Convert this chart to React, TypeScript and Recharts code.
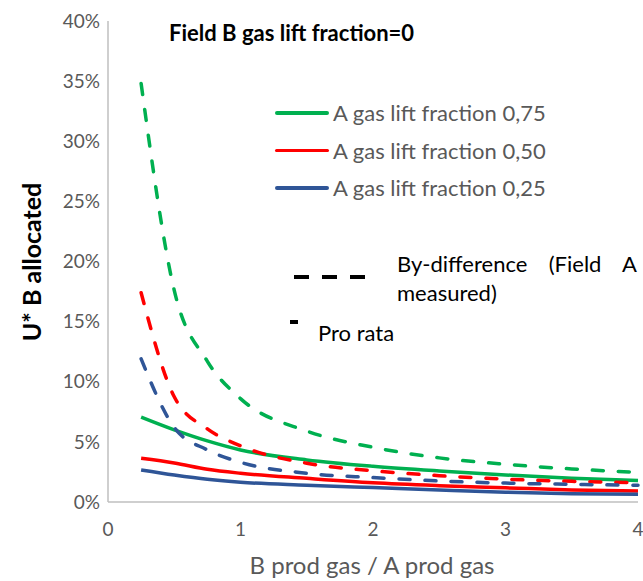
import React from "react";
import { LineChart, Line, XAxis, YAxis, Label } from "recharts";

// B prod gas / A prod gas
const ratio = [0.25, 0.5, 0.75, 1, 1.5, 2, 2.5, 3, 3.5, 4];

// pro rata (solid), U* B allocated in %
const proRata75 = [7.06, 6.0, 5.08, 4.33, 3.5, 2.97, 2.58, 2.25, 1.97, 1.78];
const proRata50 = [3.64, 3.25, 2.72, 2.39, 1.97, 1.6, 1.36, 1.18, 1.0, 0.92];
const proRata25 = [2.67, 2.25, 1.89, 1.64, 1.4, 1.2, 1.0, 0.82, 0.69, 0.64];

// by-difference (dashed), U* B allocated in %
const byDiff75 = [34.8, 17.6, 11.7, 8.6, 5.9, 4.55, 3.67, 3.14, 2.75, 2.47];
const byDiff50 = [17.4, 8.75, 6.08, 4.67, 3.22, 2.6, 2.19, 1.9, 1.72, 1.61];
const byDiff25 = [11.9, 6.2, 4.33, 3.3, 2.39, 2.03, 1.75, 1.57, 1.47, 1.39];

const seriesNames = [
  "A gas lift fraction 0,75",
  "A gas lift fraction 0,50",
  "A gas lift fraction 0,25",
];

const xTicks = [0, 1, 2, 3, 4];
const yTicks = [0, 5, 10, 15, 20, 25, 30, 35, 40];

const GREEN = "#00B050";
const RED = "#FF0000";
const BLUE = "#2F5597";
const COLORS = [GREEN, RED, BLUE];
const AXIS = "#BFBFBF";
const GREY_TEXT = "#595959";
const FONT = "Lato, 'Open Sans', sans-serif";

const data = ratio.map((x, i) => ({
  x,
  p75: proRata75[i],
  p50: proRata50[i],
  p25: proRata25[i],
  d75: byDiff75[i],
  d50: byDiff50[i],
  d25: byDiff25[i],
}));

const App: React.FC = () => {
  return (
    <div style={{ position: "absolute", left: 0, top: 0, width: 643, height: 581 }}>
      <LineChart
        width={643}
        height={581}
        data={data}
        margin={{ top: 21, right: 5, bottom: 0, left: 0 }}
      >
        <XAxis
          dataKey="x"
          type="number"
          domain={[0, 4]}
          ticks={xTicks}
          axisLine={{ stroke: AXIS, strokeWidth: 1.5 }}
          tickLine={false}
          tickSize={0}
          tickMargin={21}
          height={79}
          tick={{ fill: GREY_TEXT, fontSize: 19, fontFamily: FONT }}
        >
          <Label
            content={() => (
              <text
                x={372}
                y={564}
                textAnchor="middle"
                dominantBaseline="central"
                fill={GREY_TEXT}
                fontSize={24}
                fontFamily={FONT}
              >
                B prod gas / A prod gas
              </text>
            )}
          />
        </XAxis>
        <YAxis
          type="number"
          domain={[0, 40]}
          ticks={yTicks}
          width={108}
          axisLine={{ stroke: AXIS, strokeWidth: 1.5 }}
          tickLine={false}
          tickSize={0}
          tickMargin={8}
          tickFormatter={(v: number) => `${v}%`}
          tick={{ fill: GREY_TEXT, fontSize: 19, fontFamily: FONT }}
        >
          <Label
            content={() => (
              <text
                x={31}
                y={262}
                transform="rotate(-90 31 262)"
                textAnchor="middle"
                dominantBaseline="central"
                fill="#000"
                fontSize={25}
                fontWeight="bold"
                fontFamily={FONT}
              >
                U* B allocated
              </text>
            )}
          />
        </YAxis>
        <Line
          dataKey="p75"
          name={seriesNames[0]}
          type="monotone"
          stroke={GREEN}
          strokeWidth={3.5}
          dot={false}
          isAnimationActive={false}
        />
        <Line
          dataKey="p50"
          name={seriesNames[1]}
          type="monotone"
          stroke={RED}
          strokeWidth={3.5}
          dot={false}
          isAnimationActive={false}
        />
        <Line
          dataKey="p25"
          name={seriesNames[2]}
          type="monotone"
          stroke={BLUE}
          strokeWidth={3.5}
          dot={false}
          isAnimationActive={false}
        />
        <Line
          dataKey="d75"
          type="monotone"
          stroke={GREEN}
          strokeWidth={3.5}
          strokeDasharray="11 15"
          strokeLinecap="round"
          dot={false}
          isAnimationActive={false}
        />
        <Line
          dataKey="d50"
          type="monotone"
          stroke={RED}
          strokeWidth={3.5}
          strokeDasharray="11 15"
          strokeLinecap="round"
          dot={false}
          isAnimationActive={false}
        />
        <Line
          dataKey="d25"
          type="monotone"
          stroke={BLUE}
          strokeWidth={3.5}
          strokeDasharray="11 15"
          strokeLinecap="round"
          dot={false}
          isAnimationActive={false}
        />
      </LineChart>

      {/* chart title */}
      <div
        style={{
          position: "absolute",
          left: 169,
          top: 20,
          fontFamily: FONT,
          fontWeight: "bold",
          fontSize: 22,
          lineHeight: "26px",
          color: "#000",
          whiteSpace: "nowrap",
        }}
      >
        Field B gas lift fraction=0
      </div>

      {/* series legend */}
      <div style={{ position: "absolute", left: 275, top: 94, fontFamily: FONT }}>
        {seriesNames.map((name, i) => (
          <div
            key={`leg-${i}`}
            style={{ display: "flex", alignItems: "center", height: 37.5 }}
          >
            <div
              style={{
                width: 54,
                height: 3.5,
                background: COLORS[i],
                borderRadius: 2,
                marginRight: 4,
              }}
            />
            <span style={{ fontSize: 22, color: GREY_TEXT, whiteSpace: "nowrap" }}>
              {name}
            </span>
          </div>
        ))}
      </div>

      {/* line style legend */}
      <svg
        style={{ position: "absolute", left: 0, top: 0, pointerEvents: "none" }}
        width={643}
        height={581}
      >
        <line
          x1={294}
          y1={277}
          x2={367}
          y2={277}
          stroke="#000"
          strokeWidth={4}
          strokeDasharray="15 13"
        />
        <line x1={290} y1={322} x2={298} y2={322} stroke="#000" strokeWidth={4} />
      </svg>
      <div
        style={{
          position: "absolute",
          left: 397,
          top: 249,
          width: 240,
          fontFamily: FONT,
          fontSize: 22,
          lineHeight: "29px",
          color: "#000",
          textAlign: "justify",
        }}
      >
        By-difference (Field A measured)
      </div>
      <div
        style={{
          position: "absolute",
          left: 318,
          top: 320,
          fontFamily: FONT,
          fontSize: 22,
          lineHeight: "26px",
          color: "#000",
          whiteSpace: "nowrap",
        }}
      >
        Pro rata
      </div>
    </div>
  );
};

export default App;
